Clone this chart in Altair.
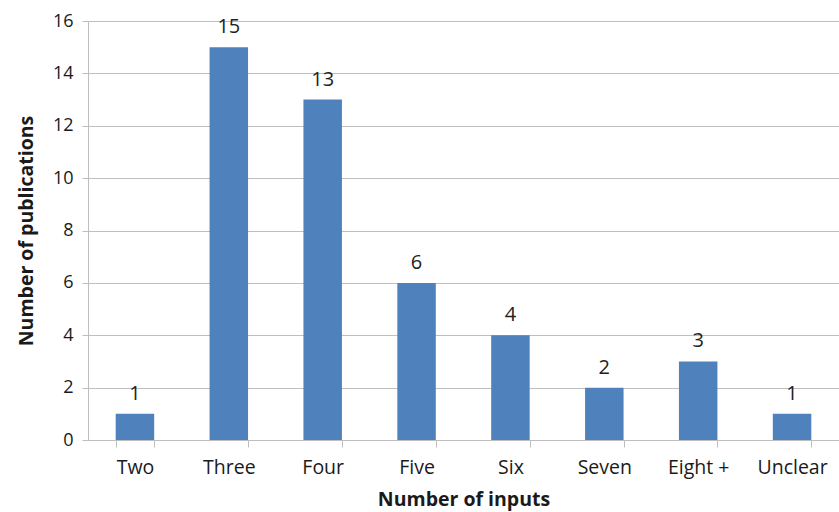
import altair as alt
import pandas as pd

categories = ["Two", "Three", "Four", "Five", "Six", "Seven", "Eight +", "Unclear"]
publications = [1, 15, 13, 6, 4, 2, 3, 1]

df = pd.DataFrame({"inputs": categories, "count": publications})

FONT = "Open Sans"
GRID = "#BEBEBE"
BAR = "#4F81BD"
INK = "#1a1a1a"

x = alt.X(
    "inputs:N",
    sort=categories,
    scale=alt.Scale(paddingInner=0.59, paddingOuter=0.295),
    axis=alt.Axis(
        title="Number of inputs",
        labelAngle=0,
        labelFontSize=19.5,
        labelColor=INK,
        labelPadding=11,
        tickBand="extent",
        tickSize=7,
        tickColor=GRID,
        domainColor=GRID,
        titleFontSize=19.5,
        titleFontWeight="bold",
        titleColor=INK,
        titlePadding=14,
        grid=False,
    ),
)

y = alt.Y(
    "count:Q",
    scale=alt.Scale(domain=[0, 16], nice=False),
    axis=alt.Axis(
        title="Number of publications",
        values=list(range(0, 17, 2)),
        labelFontSize=18,
        labelColor=INK,
        labelPadding=9,
        tickSize=6,
        tickColor=GRID,
        domainColor=GRID,
        gridColor=GRID,
        titleFontSize=19.5,
        titleFontWeight="bold",
        titleColor=INK,
        titlePadding=16,
    ),
)

bars = alt.Chart(df).mark_bar(color=BAR).encode(x=x, y=y)

labels = alt.Chart(df).mark_text(
    dy=-10, fontSize=20, font=FONT, color="#222222", baseline="bottom"
).encode(x=alt.X("inputs:N", sort=categories), y="count:Q", text="count:Q")

chart = (
    alt.layer(bars, labels)
    .properties(
        width=751,
        height=419,
        autosize=alt.AutoSizeParams(type="none"),
        padding={"left": 88, "top": 21, "right": 0, "bottom": 72},
        background="white",
    )
    .configure_axis(labelFont=FONT, titleFont=FONT)
    .configure_view(stroke=None)
)

chart.save("out.html", embed_options={"renderer": "svg", "actions": False})
